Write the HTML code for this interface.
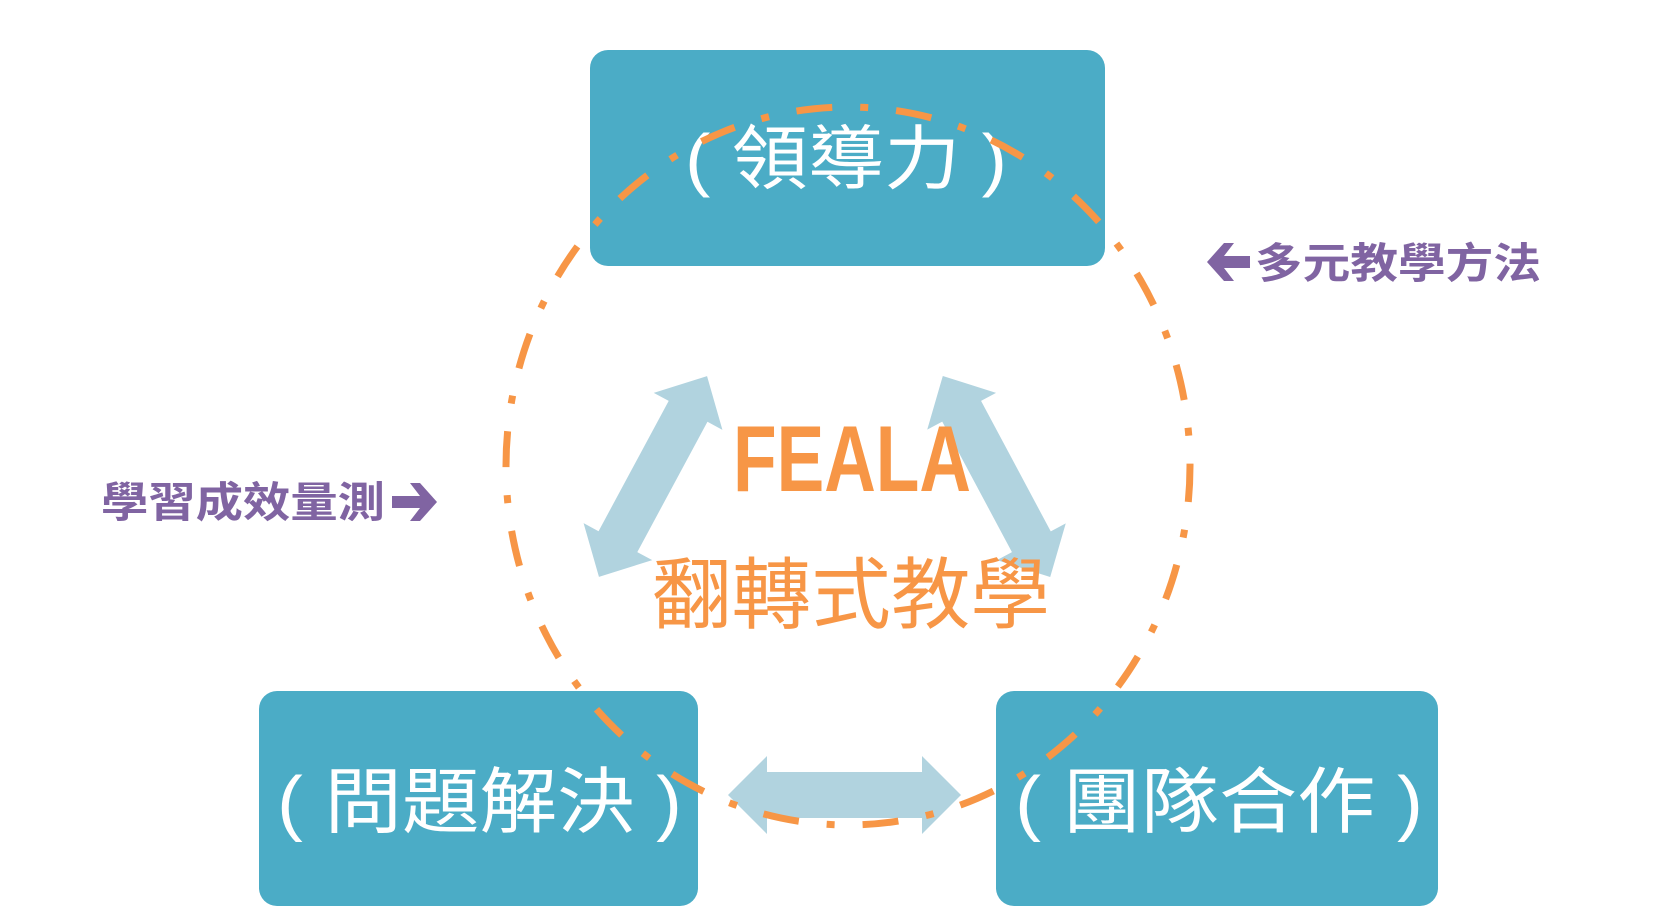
<!DOCTYPE html>
<html><head><meta charset="utf-8"><style>
html,body{margin:0;padding:0;background:#fff;width:1662px;height:924px;overflow:hidden}
svg{display:block}
</style></head><body>
<svg width="1662" height="924" viewBox="0 0 1662 924" xmlns="http://www.w3.org/2000/svg">
<rect x="590" y="50" width="515" height="216" rx="18" fill="#4BACC6"/>
<rect x="259" y="691" width="439" height="215" rx="18" fill="#4BACC6"/>
<rect x="996" y="691" width="442" height="215" rx="18" fill="#4BACC6"/>

<g fill="#B1D3DF">
<polygon transform="translate(653,476.5) rotate(-61.7)" points="-114,0 -74,-39 -74,-22 74,-22 74,-39 114,0 74,39 74,22 -74,22 -74,39"/>
<polygon transform="translate(996.5,476.5) rotate(61.9)" points="-114,0 -74,-39 -74,-22 74,-22 74,-39 114,0 74,39 74,22 -74,22 -74,39"/>
<polygon points="728,795 767,756 767,772 922,772 922,756 961,795 922,834 922,818 767,818 767,834"/>
</g>

<text x="685" y="183" font-family="Liberation Sans, Noto Sans CJK TC, sans-serif" font-size="70" fill="#fff" textLength="322" lengthAdjust="spacingAndGlyphs">( 領導力 )</text>
<text x="277" y="827" font-family="Liberation Sans, Noto Sans CJK TC, sans-serif" font-size="72" fill="#fff" textLength="405" lengthAdjust="spacingAndGlyphs">( 問題解決 )</text>
<text x="1015" y="827" font-family="Liberation Sans, Noto Sans CJK TC, sans-serif" font-size="72" fill="#fff" textLength="408" lengthAdjust="spacingAndGlyphs">( 團隊合作 )</text>

<ellipse cx="848" cy="466" rx="342" ry="359" fill="none" stroke="#F79646" stroke-width="7" stroke-dasharray="36 28 8 28"/>

<text x="733" y="491" font-family="Liberation Sans Narrow, Liberation Sans, sans-serif" font-weight="bold" font-size="94" fill="#F79646" textLength="238" lengthAdjust="spacingAndGlyphs">FEALA</text>
<text x="652" y="622" font-family="Liberation Sans, Noto Sans CJK TC, sans-serif" font-size="78" fill="#F79646" textLength="398" lengthAdjust="spacingAndGlyphs">翻轉式教學</text>

<g fill="#8064A2">
<polygon points="1207,262 1224,243 1234,243 1224,256 1250,256 1250,268 1224,268 1234,281 1224,281"/>
<polygon points="437,502 420,483 410,483 420,496 392,496 392,508 420,508 410,521 420,521"/>
</g>
<text x="1255" y="278" font-family="Liberation Sans, Noto Sans CJK TC, sans-serif" font-weight="bold" font-size="42" fill="#8064A2" textLength="286" lengthAdjust="spacingAndGlyphs">多元教學方法</text>
<text x="101" y="517" font-family="Liberation Sans, Noto Sans CJK TC, sans-serif" font-weight="bold" font-size="42" fill="#8064A2" textLength="284" lengthAdjust="spacingAndGlyphs">學習成效量測</text>
</svg>
</body></html>
